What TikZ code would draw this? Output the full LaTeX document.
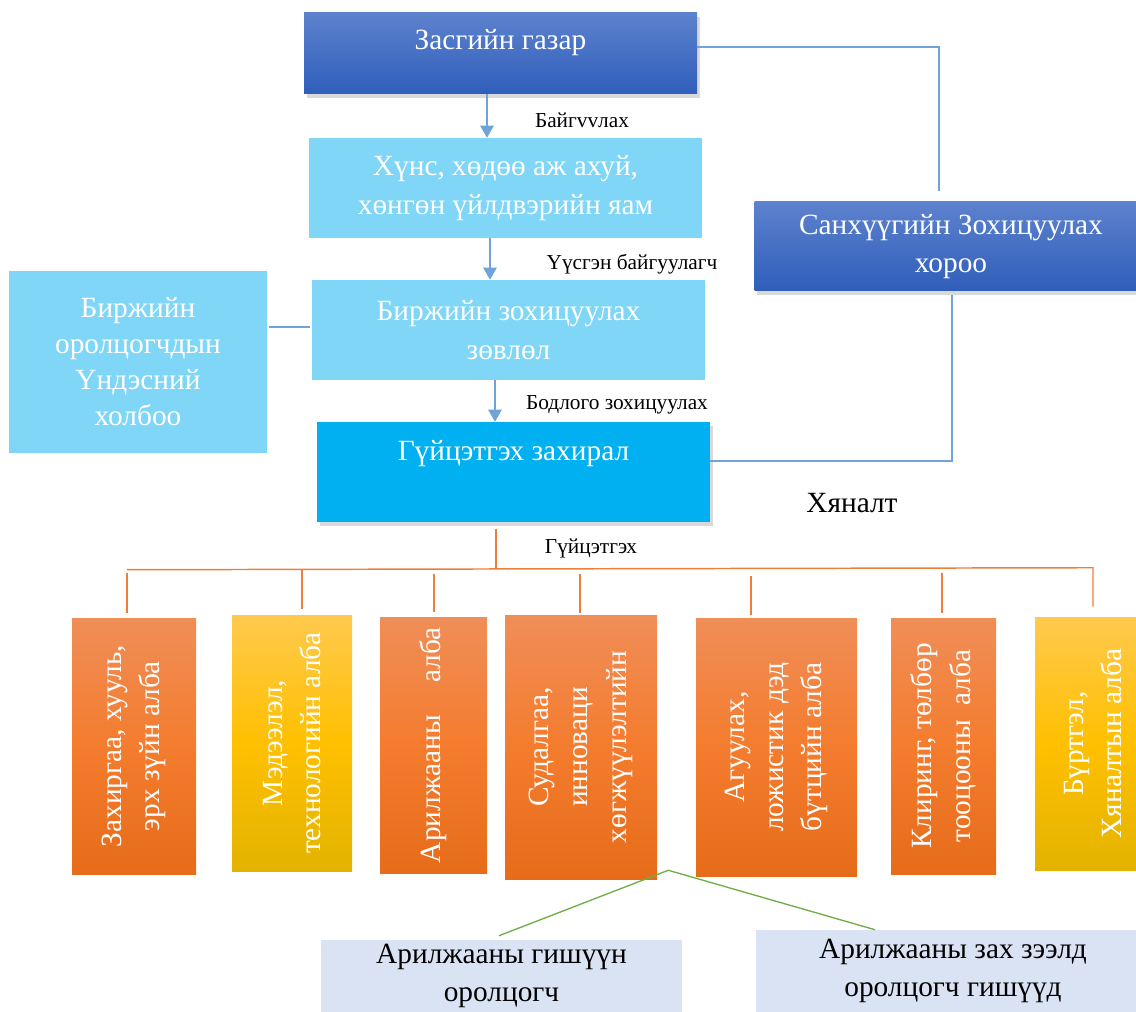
\documentclass[tikz,border=0pt]{standalone}
\usepackage{fontspec}
\setmainfont{Liberation Serif}
\usetikzlibrary{shapes,positioning,arrows.meta,calc,shadows}

\definecolor{govtop}{HTML}{5D82CE}
\definecolor{govbot}{HTML}{2F5EBA}
\definecolor{skyfill}{HTML}{80D6F6}
\definecolor{execfill}{HTML}{00B0F0}
\definecolor{orgtop}{HTML}{F08E58}
\definecolor{orgmid}{HTML}{F47C2E}
\definecolor{orgbot}{HTML}{E66C1A}
\definecolor{yeltop}{HTML}{FFC94E}
\definecolor{yelmid}{HTML}{FFC000}
\definecolor{yelbot}{HTML}{E3B300}
\definecolor{pale}{HTML}{DAE3F3}
\definecolor{blueline}{HTML}{6FA3DA}
\definecolor{orgline}{HTML}{EE7F3A}
\definecolor{grassline}{HTML}{70AD47}

\def\pxu{0.75pt}

\begin{document}
\begin{tikzpicture}[x=0.75pt,y=-0.75pt,
            box/.style={rectangle, inner sep=2pt, align=center, text=white,
                font=\fontsize{22}{29}\selectfont},
            darkbox/.style={box, top color=govtop, bottom color=govbot,
                drop shadow={shadow xshift=2pt, shadow yshift=-3pt, opacity=0.3}},
            lightbox/.style={box, fill=skyfill},
            dept/.style={box, rotate=90},
            orgdept/.style={dept, top color=orgtop, bottom color=orgbot, middle color=orgmid},
            yeldept/.style={dept, top color=yeltop, bottom color=yelbot, middle color=yelmid},
            palebox/.style={box, fill=pale, text=black},
            flow/.style={draw=blueline, line width=1.1pt, -{Triangle[width=10pt,length=9pt]}},
            link/.style={draw=blueline, line width=1pt},
            tree/.style={draw=orgline, line width=1.1pt},
            grasslink/.style={draw=grassline, line width=1pt},
            note/.style={font=\fontsize{16}{19}\selectfont}]

            \useasboundingbox (0,0) rectangle (1136,1012);

            \node [darkbox, minimum width=393*\pxu, minimum height=81*\pxu, inner ysep=0pt,
                text height=27.75pt, text depth=33pt] (gov) at (500.5,53.5) {Засгийн газар};
            \node [lightbox, minimum width=393*\pxu, minimum height=100*\pxu] (ministry) at (505.5,188)
                {Хүнс, хөдөө аж ахуй,\\хөнгөн үйлдвэрийн яам};
            \node [note] (lblfound) at (632,264) {Үүсгэн байгуулагч};
            \node [lightbox, minimum width=393*\pxu, minimum height=100*\pxu] (council) at (508.5,330)
                {Биржийн зохицуулах\\зөвлөл};
            \node [lightbox, minimum width=258*\pxu, minimum height=182*\pxu,
                font=\fontsize{22}{27}\selectfont] (assoc) at (138,362)
                {Биржийн\\оролцогчдын\\Үндэсний\\холбоо};
            \node [box, fill=execfill, drop shadow={shadow xshift=2pt, shadow yshift=-3pt, opacity=0.3},
                minimum width=393*\pxu, minimum height=100*\pxu, inner ysep=0pt,
                text height=29.25pt, text depth=45.75pt] (exec) at (513.5,472) {Гүйцэтгэх захирал};
            \node [darkbox, minimum width=393*\pxu, minimum height=89*\pxu] (fsc) at (951,246.5)
                {Санхүүгийн Зохицуулах\\хороо};

            \node [note] (lblmake) at (582,120) {Байгvvлах};
            \node [note] (lblpolicy) at (617,405) {Бодлого зохицуулах};
            \node [note] (lblrun) at (591,548) {Гүйцэтгэх};
            \node [font=\fontsize{22}{26}\selectfont] (control) at (852,503) {Хяналт};

            \node [orgdept, minimum width=256*\pxu, minimum height=124*\pxu] (admin) at (134,746)
                {Захиргаа, хууль,\\эрх зүйн алба};
            \node [yeldept, minimum width=256*\pxu, minimum height=120*\pxu] (infotech) at (292,743)
                {Мэдээлэл,\\технологийн алба};
            \node [orgdept, minimum width=256*\pxu, minimum height=107*\pxu] (trade) at (433.5,745)
                {Арилжааны\hspace{1.1em}алба};
            \node [orgdept, minimum width=264*\pxu, minimum height=152*\pxu] (research) at (581,747)
                {Судалгаа,\\инноваци\\хөгжүүлэлтийн};
            \node [orgdept, minimum width=258*\pxu, minimum height=161*\pxu] (logistics) at (776.5,747)
                {Агуулах,\\ложистик дэд\\бүтцийн алба};
            \node [orgdept, minimum width=256*\pxu, minimum height=105*\pxu] (clearing) at (943.5,746)
                {Клиринг, төлбөр\\тооцооны\ \ алба};
            \node [yeldept, minimum width=253*\pxu, minimum height=116*\pxu] (registry) at (1093,743.5)
                {Бүртгэл,\\Хяналтын алба};

            \node [palebox, minimum width=361*\pxu, minimum height=72*\pxu] (member) at (501.5,976)
                {Арилжааны гишүүн\\оролцогч};
            \node [palebox, minimum width=394*\pxu, minimum height=82*\pxu] (participant) at (953,971)
                {Арилжааны зах зээлд\\оролцогч гишүүд};

            \draw [flow] ($(gov.south)+(-13.5,0)$) -- ($(ministry.north)+(-18.5,0)$);
            \draw [flow] ($(ministry.south)+(-15.5,0)$) -- ($(council.north)+(-18.5,0)$);
            \draw [flow] ($(council.south)+(-13.5,0)$) -- ($(exec.north)+(-18.5,0)$);

            \draw [link] ($(gov.east)+(0,-6.5)$) -| ($(fsc.north)+(-12,-11)$);
            \draw [link] ($(fsc.south)+(1,4)$) |- ($(exec.east)+(0,-11)$);
            \draw [link] ($(assoc.east)+(2,-35)$) -- ($(council.west)+(-2,-3)$);

            \draw [tree] ($(exec.south)+(-17.5,7)$) -- ($(exec.south)+(-17.5,46)$);
            \draw [tree] ($(admin.east)+(-7,-48)$) -- ($(registry.east)+(0,-49)$)
                -- ($(registry.east)+(0,-10)$);
            \draw [tree] ($(admin.east)+(-7,-45)$) -- ($(admin.east)+(-7,-5)$);
            \draw [tree] ($(infotech.east)+(10,-45)$) -- ($(infotech.east)+(10,-6)$);
            \draw [tree] ($(trade.east)+(0.5,-43)$) -- ($(trade.east)+(0.5,-5)$);
            \draw [tree] ($(research.east)+(-1,-41)$) -- ($(research.east)+(-1,-2)$);
            \draw [tree] ($(logistics.east)+(-25.5,-42)$) -- ($(logistics.east)+(-25.5,-3)$);
            \draw [tree] ($(clearing.east)+(-1.5,-45)$) -- ($(clearing.east)+(-1.5,-5)$);

            \draw [grasslink] ($(member.north)+(-2.5,-4)$) -- ($(research.south west)+(11,-9)$)
                -- ($(participant.north)+(-78,0)$);
        \end{tikzpicture}
\end{document}
